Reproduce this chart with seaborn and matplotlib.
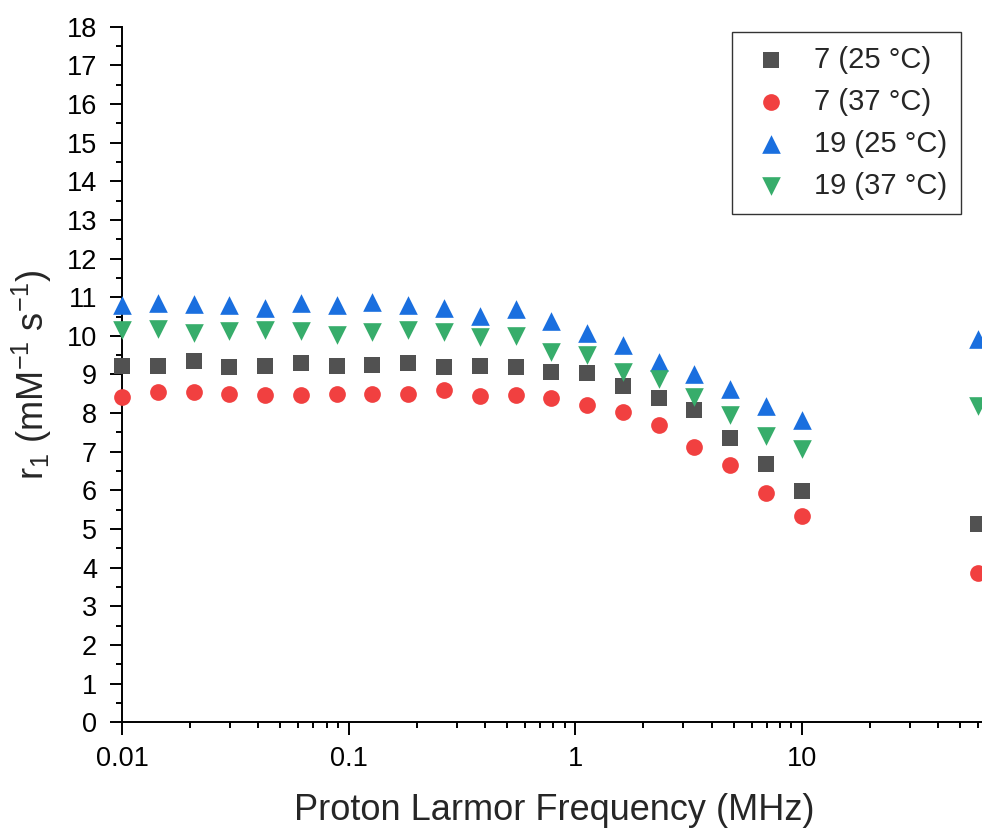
import numpy as np
import pandas as pd
import matplotlib
matplotlib.use("Agg")
import matplotlib.pyplot as plt
import matplotlib.ticker as mticker
import seaborn as sns

# ---- data ----
freq_mhz = [0.01, 0.0144, 0.0207, 0.0298, 0.0428, 0.0616, 0.0886, 0.127, 0.183,
            0.264, 0.379, 0.546, 0.785, 1.13, 1.62, 2.34, 3.36, 4.83, 6.95, 10.0, 60.0]

r1_7_25 = [9.22, 9.22, 9.35, 9.20, 9.23, 9.29, 9.23, 9.25, 9.29, 9.19, 9.23, 9.20,
           9.06, 9.05, 8.69, 8.39, 8.07, 7.35, 6.68, 5.98, 5.13]
r1_7_37 = [8.42, 8.54, 8.54, 8.50, 8.47, 8.48, 8.50, 8.50, 8.49, 8.61, 8.44, 8.47,
           8.38, 8.22, 8.04, 7.69, 7.13, 6.67, 5.94, 5.34, 3.87]
r1_19_25 = [10.80, 10.84, 10.82, 10.80, 10.73, 10.85, 10.79, 10.88, 10.81, 10.72, 10.52,
            10.69, 10.39, 10.08, 9.76, 9.32, 9.00, 8.63, 8.19, 7.82, 9.91]
r1_19_37 = [10.15, 10.18, 10.08, 10.12, 10.14, 10.12, 10.03, 10.09, 10.14, 10.10, 9.97,
            10.00, 9.57, 9.51, 9.07, 8.89, 8.43, 7.95, 7.41, 7.07, 8.19]

series_labels = ["7 (25 °C)", "7 (37 °C)", "19 (25 °C)", "19 (37 °C)"]
series_values = [r1_7_25, r1_7_37, r1_19_25, r1_19_37]

x_tick_values = [0.01, 0.1, 1, 10]
x_tick_labels = ["0.01", "0.1", "1", "10"]
y_tick_values = list(range(0, 19))

# ---- styling ----
colors = ["#515151", "#F14040", "#1A6FDF", "#37AD6B"]
markers = ["s", "o", "^", "v"]
sizes = [125, 145, 180, 180]

sns.set_style("ticks")
plt.rcParams["font.family"] = ["Liberation Sans", "DejaVu Sans"]
plt.rcParams["mathtext.fontset"] = "custom"
plt.rcParams["mathtext.rm"] = "Liberation Sans"
plt.rcParams["mathtext.it"] = "Liberation Sans:italic"
plt.rcParams["mathtext.default"] = "regular"

df = pd.DataFrame({
    "freq": freq_mhz * len(series_labels),
    "r1": sum(series_values, []),
    "sample": sum([[lab] * len(freq_mhz) for lab in series_labels], []),
})

fig = plt.figure(figsize=(9.82, 8.32), dpi=100)
ax = fig.add_axes([122 / 982, (832 - 722.3) / 832, (986 - 122) / 982, (722.3 - 26.7) / 832])

for lab, col, mk, sz in zip(series_labels, colors, markers, sizes):
    sub = df[df["sample"] == lab]
    sns.scatterplot(data=sub, x="freq", y="r1", color=col, marker=mk, s=sz,
                    linewidth=0, ax=ax, label=lab, clip_on=False, zorder=3)

ax.set_xscale("log")
ax.set_xlim(0.01, 65)
ax.set_ylim(0, 18)

ax.set_xticks(x_tick_values)
ax.set_xticklabels(x_tick_labels)
ax.xaxis.set_minor_locator(mticker.LogLocator(base=10, subs=np.arange(2, 10), numticks=20))
ax.xaxis.set_minor_formatter(mticker.NullFormatter())
ax.set_yticks(y_tick_values)
ax.yaxis.set_minor_locator(mticker.MultipleLocator(0.5))

for s in ["top", "right"]:
    ax.spines[s].set_visible(False)
for s in ["left", "bottom"]:
    ax.spines[s].set_linewidth(1.4)
    ax.spines[s].set_color("black")

ax.tick_params(axis="both", which="major", direction="out", length=9, width=1.4,
               labelsize=19.5, colors="black")
ax.tick_params(axis="both", which="minor", direction="out", length=4.5, width=1.4,
               colors="black")
ax.tick_params(axis="y", which="major", pad=9)
ax.tick_params(axis="x", which="major", pad=8)

ax.set_xlabel("Proton Larmor Frequency (MHz)", fontsize=26, labelpad=15)
ax.set_ylabel("r$_1$ (mM$^{-1}$ s$^{-1}$)", fontsize=26, labelpad=9)

h, l = ax.get_legend_handles_labels()
leg = ax.legend(h, l, loc="upper right", bbox_to_anchor=(960.7 / 982, 1 - 32.3 / 832),
                bbox_transform=fig.transFigure, fontsize=21, frameon=True,
                fancybox=False, edgecolor="black", borderpad=0.47, labelspacing=0.48,
                handlelength=1.7, handletextpad=0.63, borderaxespad=0)
leg.get_frame().set_linewidth(1.0)

fig.savefig("out.png", dpi=100)
